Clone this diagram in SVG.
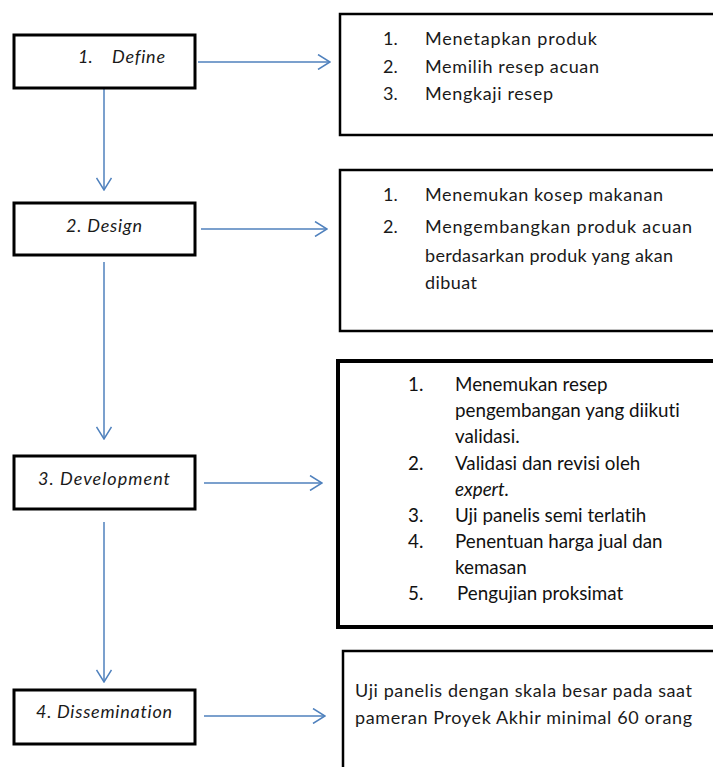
<svg xmlns="http://www.w3.org/2000/svg" width="713" height="767" viewBox="0 0 713 767">
<defs>
<style>
text{font-variant-ligatures:none}
.step{fill:#fff;stroke:#000;stroke-width:3}
.rbox{fill:#fff;stroke:#000;stroke-width:2.5}
.lbl{font-family:Lato,"Liberation Sans",sans-serif;font-style:italic;font-size:18px;fill:#1a1a1a}
.txt{font-family:Lato,"Liberation Sans",sans-serif;font-size:18px;fill:#1a1a1a}
.txt3{font-family:Lato,"Liberation Sans",sans-serif;font-size:18.8px;fill:#111}
.conn{stroke:#4F81BD;stroke-width:1.5;fill:none}
</style>
<marker id="arr" markerUnits="userSpaceOnUse" viewBox="0 0 14 16" refX="13" refY="8" markerWidth="14" markerHeight="16" orient="auto">
<path d="M1,0.5 L13,8 L1,15.5" fill="none" stroke="#4F81BD" stroke-width="1.5"/>
</marker>
</defs>
<rect width="713" height="767" fill="#fff"/>

<g id="connectors">
<line class="conn" x1="198" y1="62" x2="330" y2="62" marker-end="url(#arr)"/>
<line class="conn" x1="201" y1="229" x2="327" y2="229" marker-end="url(#arr)"/>
<line class="conn" x1="204" y1="483" x2="322" y2="483" marker-end="url(#arr)"/>
<line class="conn" x1="204" y1="716" x2="325" y2="716" marker-end="url(#arr)"/>
<line class="conn" x1="104" y1="89" x2="104" y2="190" marker-end="url(#arr)"/>
<line class="conn" x1="104" y1="262" x2="104" y2="439" marker-end="url(#arr)"/>
<line class="conn" x1="104" y1="522" x2="104" y2="682" marker-end="url(#arr)"/>
</g>

<g id="define">
<rect class="step" x="14" y="35" width="181" height="53"/>
<text class="lbl" x="78" y="63">1.</text>
<text class="lbl" x="112" y="63" textLength="53" lengthAdjust="spacing">Define</text>
</g>
<g id="design">
<rect class="step" x="14" y="203" width="181" height="52"/>
<text class="lbl" x="66" y="232" textLength="76" lengthAdjust="spacing">2. Design</text>
</g>
<g id="development">
<rect class="step" x="14" y="456" width="181" height="53"/>
<text class="lbl" x="38" y="485" textLength="132" lengthAdjust="spacing">3. Development</text>
</g>
<g id="dissemination">
<rect class="step" x="14" y="690" width="181" height="54"/>
<text class="lbl" x="36" y="718" textLength="136" lengthAdjust="spacing">4. Dissemination</text>
</g>

<g id="define-detail">
<rect class="rbox" x="340" y="14" width="385" height="121"/>
<text class="txt" x="383" y="45">1.</text><text class="txt" x="425" y="45" textLength="172" lengthAdjust="spacing">Menetapkan produk</text>
<text class="txt" x="383" y="73">2.</text><text class="txt" x="425" y="73" textLength="174" lengthAdjust="spacing">Memilih resep acuan</text>
<text class="txt" x="383" y="100">3.</text><text class="txt" x="425" y="100" textLength="128" lengthAdjust="spacing">Mengkaji resep</text>
</g>
<g id="design-detail">
<rect class="rbox" x="340" y="170" width="385" height="161"/>
<text class="txt" x="383" y="201">1.</text><text class="txt" x="425" y="201" textLength="238" lengthAdjust="spacing">Menemukan kosep makanan</text>
<text class="txt" x="383" y="233">2.</text><text class="txt" x="425" y="233" textLength="267" lengthAdjust="spacing">Mengembangkan produk acuan</text>
<text class="txt" x="425" y="262" textLength="248" lengthAdjust="spacing">berdasarkan produk yang akan</text>
<text class="txt" x="425" y="289" textLength="52" lengthAdjust="spacing">dibuat</text>
</g>
<g id="development-detail">
<rect x="338" y="361" width="390" height="266" fill="#fff" stroke="#000" stroke-width="4"/>
<text class="txt3" x="408" y="391">1.</text><text class="txt3" x="455" y="391">Menemukan resep</text>
<text class="txt3" x="455" y="417">pengembangan yang diikuti</text>
<text class="txt3" x="455" y="443">validasi.</text>
<text class="txt3" x="408" y="470">2.</text><text class="txt3" x="455" y="470">Validasi dan revisi oleh</text>
<text class="txt3" x="455" y="496" font-style="italic">expert.</text>
<text class="txt3" x="408" y="522">3.</text><text class="txt3" x="455" y="522">Uji panelis semi terlatih</text>
<text class="txt3" x="408" y="548">4.</text><text class="txt3" x="455" y="548">Penentuan harga jual dan</text>
<text class="txt3" x="455" y="574">kemasan</text>
<text class="txt3" x="408" y="600">5.</text><text class="txt3" x="457" y="600">Pengujian proksimat</text>
</g>
<g id="dissemination-detail">
<rect class="rbox" x="343" y="651" width="385" height="130"/>
<text class="txt" x="355" y="697" textLength="337" lengthAdjust="spacing">Uji panelis dengan skala besar pada saat</text>
<text class="txt" x="355" y="724" textLength="337" lengthAdjust="spacing">pameran Proyek Akhir minimal 60 orang</text>
</g>
</svg>
